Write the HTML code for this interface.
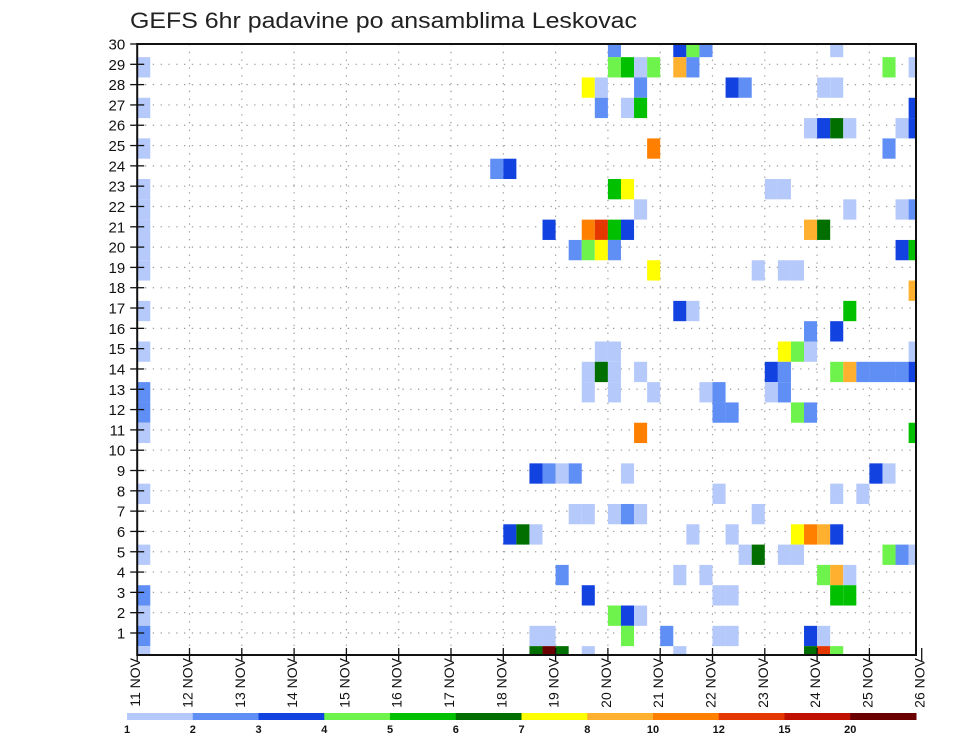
<!DOCTYPE html>
<html><head><meta charset="utf-8"><title>GEFS 6hr padavine</title>
<style>html,body{margin:0;padding:0;background:#fff;}svg{display:block;font-family:"Liberation Sans",sans-serif;}</style>
</head><body>
<svg id="chart" width="960" height="742" viewBox="0 0 960 742" xmlns="http://www.w3.org/2000/svg">
<rect x="0" y="0" width="960" height="742" fill="#fff"/>
<text x="130" y="28" font-size="22" fill="#222" textLength="507" lengthAdjust="spacingAndGlyphs">GEFS 6hr padavine po ansamblima Leskovac</text>
<g id="grid"></g>
<g id="cells"></g>
<g id="axes"></g>
<g id="colorbar"></g>
</svg>
<script>
// ---- data ----
const dayLabels = ["11 NOV","12 NOV","13 NOV","14 NOV","15 NOV","16 NOV","17 NOV","18 NOV","19 NOV","20 NOV","21 NOV","22 NOV","23 NOV","24 NOV","25 NOV","26 NOV"];
const memberTicks = [1,2,3,4,5,6,7,8,9,10,11,12,13,14,15,16,17,18,19,20,21,22,23,24,25,26,27,28,29,30];
const levelBounds = [1,2,3,4,5,6,7,8,10,12,15,20];
const levelLabels = ["1","2","3","4","5","6","7","8","10","12","15","20"];
const levelColors = ["#b6c9fb","#5f8ef5","#1242e0","#6ef24c","#00c000","#006f00","#ffff00","#ffb02e","#ff7f00","#e43800","#c01000","#6a0000"];
// cells: member row, 6-hour step index (0 = 11 NOV 00z), precipitation (mm)
const cellMember = [30,30,30,30,30, 29,29,29,29,29,29,29,29,29, 28,28,28,28,28,28,28, 27,27,27,27,27, 26,26,26,26,26,26, 25,25,25, 24,24, 23,23,23,23,23, 22,22,22,22,22, 21,21,21,21,21,21,21,21, 20,20,20,20,20,20,20, 19,19,19,19,19, 18, 17,17,17,17, 16,16, 15,15,15,15,15,15,15, 14,14,14,14,14,14,14,14,14,14,14,14,14, 13,13,13,13,13,13,13,13, 12,12,12,12,12, 11,11,11, 9,9,9,9,9,9,9, 8,8,8,8, 7,7,7,7,7,7, 6,6,6,6,6,6,6,6,6, 5,5,5,5,5,5,5,5, 4,4,4,4,4,4, 3,3,3,3,3,3, 2,2,2,2, 1,1,1,1,1,1,1,1,1, 0,0,0,0,0,0,0,0,0];
const cellStep = [36,41,42,43,53, 0,36,37,38,39,41,42,57,59, 34,35,38,45,46,52,53, 0,35,37,38,59, 51,52,53,54,58,59, 0,39,57, 27,28, 0,36,37,48,49, 0,38,54,58,59, 0,31,34,35,36,37,51,52, 0,33,34,35,36,58,59, 0,39,47,49,50, 59, 0,41,42,54, 51,53, 0,35,36,49,50,51,59, 34,35,36,38,48,49,53,54,55,56,57,58,59, 0,34,36,39,43,44,48,49, 0,44,45,50,51, 0,38,59, 30,31,32,33,37,56,57, 0,44,53,55, 33,34,36,37,38,47, 28,29,30,42,45,50,51,52,53, 0,46,47,49,50,57,58,59, 32,41,43,52,53,54, 0,34,44,45,53,54, 0,36,37,38, 0,30,31,37,40,44,45,51,52, 0,30,31,32,34,41,51,52,53];
const cellPrecip = [2.5,3.5,4.5,2.5,1.5, 1.5,4.5,5.5,1.5,4.5,9,2.5,4.5,1.5, 7.5,1.5,2.5,3.5,2.5,1.5,1.5, 1.5,2.5,1.5,5.5,3.5, 1.5,3.5,6.5,1.5,1.5,3.5, 1.5,11,2.5, 2.5,3.5, 1.5,5.5,7.5,1.5,1.5, 1.5,1.5,1.5,1.5,2.5, 1.5,3.5,11,13,5.5,3.5,9,6.5, 1.5,2.5,4.5,7.5,2.5,3.5,5.5, 1.5,7.5,1.5,1.5,1.5, 9, 1.5,3.5,1.5,5.5, 2.5,3.5, 1.5,1.5,1.5,7.5,4.5,1.5,1.5, 1.5,6.5,1.5,1.5,3.5,2.5,4.5,9,2.5,2.5,2.5,2.5,3.5, 2.5,1.5,1.5,1.5,1.5,2.5,1.5,2.5, 2.5,2.5,2.5,4.5,2.5, 1.5,11,5.5, 3.5,2.5,1.5,2.5,1.5,3.5,1.5, 1.5,1.5,1.5,1.5, 1.5,1.5,1.5,2.5,1.5,1.5, 3.5,6.5,1.5,1.5,1.5,7.5,11,9,3.5, 1.5,1.5,6.5,1.5,1.5,4.5,2.5,1.5, 2.5,1.5,1.5,4.5,9,1.5, 2.5,3.5,1.5,1.5,5.5,5.5, 1.5,4.5,3.5,1.5, 2.5,1.5,1.5,4.5,2.5,1.5,1.5,3.5,1.5, 1.5,6.5,22,6.5,1.5,1.5,6.5,13,4.5];

// ---- layout ----
const NS = "http://www.w3.org/2000/svg";
const plotL = 137.2, plotR = 916, plotT = 44, plotB = 655;
const dayW = 52.3, stepW = dayW / 4;
const rowH = 20.31, row0 = 653.3, cellDy = 3;
function xDay(i){ return plotL + i * dayW; }
function xStep(s){ return plotL + s * stepW; }
function yMember(m){ return row0 - m * rowH; }
function colorFor(v){
  let idx = -1;
  for (let i = 0; i < levelBounds.length; i++) if (v >= levelBounds[i]) idx = i;
  return idx < 0 ? null : levelColors[idx];
}
function mk(tag, attrs, parent){
  const el = document.createElementNS(NS, tag);
  for (const k in attrs) el.setAttribute(k, attrs[k]);
  parent.appendChild(el);
  return el;
}
const grid = document.getElementById("grid");
const cells = document.getElementById("cells");
const axes = document.getElementById("axes");
const cbar = document.getElementById("colorbar");

// grid
memberTicks.forEach(m => {
  const y = yMember(m);
  if (y <= plotT + 1) return;
  const ln = mk("line", {x1: plotL, x2: plotR, y1: y, y2: y, stroke: "#9a9a9a", "stroke-width": 1.2, "stroke-dasharray": "1.3,6.5"}, grid);
  
  
});
dayLabels.forEach((d, i) => {
  if (i === 0 || i === dayLabels.length - 1) return;
  const x = xDay(i);
  const ln = mk("line", {x1: x, x2: x, y1: plotT, y2: plotB, stroke: "#9a9a9a", "stroke-width": 1.2, "stroke-dasharray": "1.3,6.5"}, grid);
  
  
});

// cells
for (let k = 0; k < cellMember.length; k++) {
  const c = colorFor(cellPrecip[k]);
  if (!c) continue;
  let x1 = xStep(cellStep[k]), x2 = x1 + stepW;
  let y1 = yMember(cellMember[k]) - rowH / 2 + cellDy, y2 = y1 + rowH;
  x2 = Math.min(x2, plotR); y1 = Math.max(y1, plotT); y2 = Math.min(y2, plotB);
  if (x2 <= x1 || y2 <= y1) continue;
  const r = mk("rect", {x: x1, y: y1, width: x2 - x1, height: y2 - y1, fill: c}, cells);
  
  
}

// frame
const frame = mk("rect", {x: plotL, y: plotT, width: plotR - plotL, height: plotB - plotT, fill: "none", stroke: "#111", "stroke-width": 2}, axes);



// y ticks and labels
memberTicks.forEach(m => {
  const y = yMember(m);
  const t = mk("line", {x1: plotL - 7, x2: plotL + 7, y1: y, y2: y, stroke: "#111", "stroke-width": 1.3}, axes);
  
  
  const lb = mk("text", {x: plotL - 12, y: y + 5.5, "font-size": 15, "text-anchor": "end", fill: "#111"}, axes);
  lb.textContent = String(m);
  
  
});

// x ticks and labels
dayLabels.forEach((d, i) => {
  const x = xDay(i);
  const t = mk("line", {x1: x, x2: x, y1: plotB - 7, y2: plotB + 6, stroke: "#111", "stroke-width": 1.3}, axes);
  
  
  const lb = mk("text", {x: 0, y: 0, "font-size": 14, "text-anchor": "end", fill: "#111", transform: "translate(" + (x + 3) + "," + (plotB + 3) + ") rotate(-90)"}, axes);
  lb.textContent = d;
  
  
});

// color bar
const cbL = 127, cbR = 916, cbT = 713, cbH = 7;
const segW = (cbR - cbL) / levelColors.length;
levelColors.forEach((c, i) => {
  const r = mk("rect", {x: cbL + i * segW, y: cbT, width: segW + 0.5, height: cbH, fill: c}, cbar);
  
  
});
levelLabels.forEach((l, i) => {
  const t = mk("text", {x: cbL + i * segW, y: 733, "font-size": 11, "font-weight": "bold", "text-anchor": "middle", fill: "#111"}, cbar);
  t.textContent = l;
  
  
});
</script>
</body></html>
